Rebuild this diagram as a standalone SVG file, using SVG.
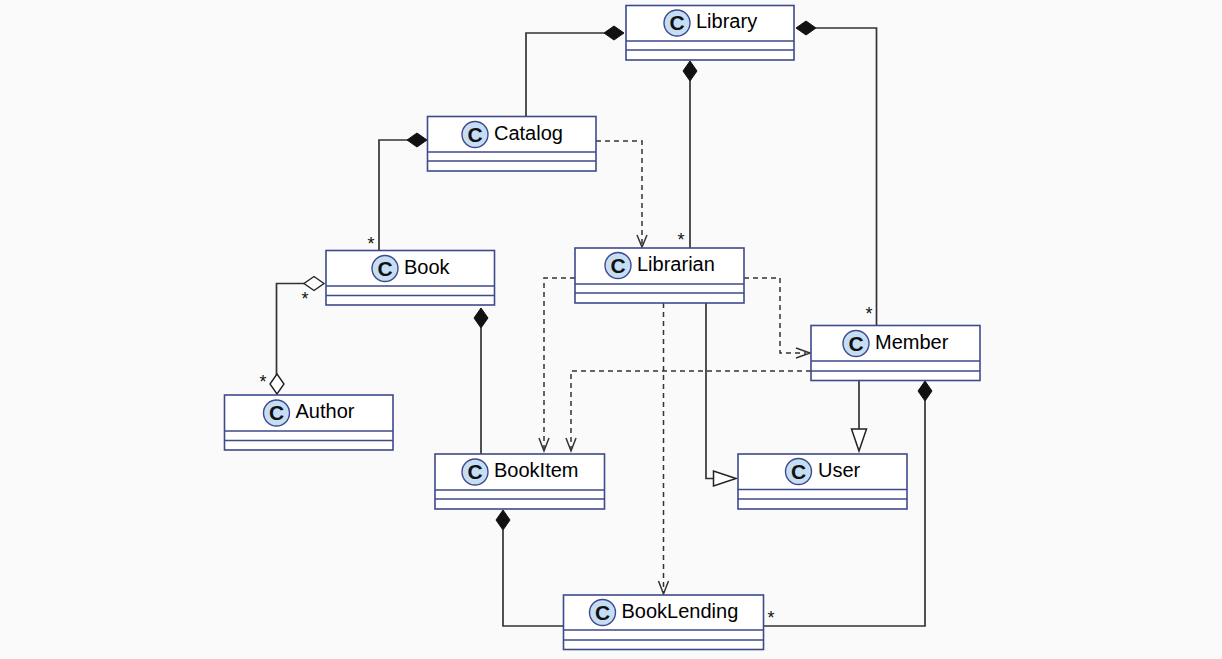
<svg xmlns="http://www.w3.org/2000/svg" width="1222" height="659" viewBox="0 0 1222 659">
<style>
.box{fill:#fff;stroke:#3f4a8c;stroke-width:1.6}
.div{stroke:#3f4a8c;stroke-width:1.6;fill:none}
.ic{fill:#c6def4;stroke:#3f4a8c;stroke-width:1.4}
.c{font:bold 21px "Liberation Sans",Arial,sans-serif;fill:#111;text-anchor:middle}
.t{font:20px "Liberation Sans",Arial,sans-serif;fill:#000}
.m{font:18px "Liberation Sans",Arial,sans-serif;fill:#111;text-anchor:middle}
.l{fill:none;stroke:#333;stroke-width:1.7}
.d{fill:none;stroke:#333;stroke-width:1.5;stroke-dasharray:5 4}
.fd{fill:#111;stroke:#111;stroke-width:1}
.od{fill:#fff;stroke:#222;stroke-width:1.4}
.tri{fill:#fff;stroke:#222;stroke-width:1.5}
.op{fill:none;stroke:#333;stroke-width:1.5}
</style>
<rect width="1222" height="659" fill="#fafafa"/>
<g id="connectors">
<path class="l" d="M526 116V33H604"/>
<polygon class="fd" points="624,33 614,26 604,33 614,40"/>
<path class="l" d="M427 140H379V250"/>
<polygon class="fd" points="427,140 417,133 407,140 417,147"/>
<path class="l" d="M690 80V248"/>
<polygon class="fd" points="690,61 683,71 690,81 697,71"/>
<path class="l" d="M816 28H876.500V325"/>
<polygon class="fd" points="796,28 806,21 816,28 806,35"/>
<path class="d" d="M596 141H642V244"/>
<path class="op" d="M637 235L642 247L647 235"/>
<path class="l" d="M304 283.500H276.500V375"/>
<polygon class="od" points="324,283.500 314,276.500 304,283.500 314,290.500"/>
<polygon class="od" points="277,374 270,384 277,394 284,384"/>
<path class="l" d="M481 328V454"/>
<polygon class="fd" points="481,308 474,318 481,328 488,318"/>
<path class="d" d="M575 278H544V450"/>
<path class="op" d="M539 438L544 451L549 438"/>
<path class="d" d="M744 278H780V353H806"/>
<path class="op" d="M796 348L810 353L796 358"/>
<path class="d" d="M811 371H571V450"/>
<path class="op" d="M566 438L571 451L576 438"/>
<path class="d" d="M663.500 303V592"/>
<path class="op" d="M658.500 581L663.500 594L668.500 581"/>
<path class="l" d="M706 303V478.500H714"/>
<polygon class="tri" points="736,478.500 713.500,471 713.500,486"/>
<path class="l" d="M859 381V429"/>
<polygon class="tri" points="859,451 851.500,429 866.500,429"/>
<path class="l" d="M925 401V626H764"/>
<polygon class="fd" points="925,381 918,391 925,401 932,391"/>
<path class="l" d="M503 530V626H563"/>
<polygon class="fd" points="503,510 496,520 503,530 510,520"/>
<text class="m" x="371" y="250">*</text>
<text class="m" x="681" y="246">*</text>
<text class="m" x="869" y="320">*</text>
<text class="m" x="305" y="305">*</text>
<text class="m" x="263" y="388">*</text>
<text class="m" x="771" y="624">*</text>
</g>
<g id="Library"><rect class="box" x="626" y="5.500" width="168" height="54.500"/><path class="div" d="M626 41H794M626 50H794"/><circle class="ic" cx="677" cy="23" r="13"/><text class="c" x="677" y="30">C</text><text class="t" x="696" y="28">Library</text></g>
<g id="Catalog"><rect class="box" x="427.500" y="116.500" width="168.500" height="54.500"/><path class="div" d="M427.500 152H596M427.500 161H596"/><circle class="ic" cx="475" cy="134.500" r="13"/><text class="c" x="475" y="141.500">C</text><text class="t" x="494" y="140">Catalog</text></g>
<g id="Book"><rect class="box" x="326" y="250.500" width="168.500" height="54.500"/><path class="div" d="M326 286H494.500M326 295.500H494.500"/><circle class="ic" cx="385" cy="268.500" r="13"/><text class="c" x="385" y="275.500">C</text><text class="t" x="404" y="274">Book</text></g>
<g id="Author"><rect class="box" x="224.500" y="395" width="168.500" height="55"/><path class="div" d="M224.500 431H393M224.500 440.500H393"/><circle class="ic" cx="276.500" cy="413" r="13"/><text class="c" x="276.500" y="420">C</text><text class="t" x="295.500" y="418">Author</text></g>
<g id="Librarian"><rect class="box" x="575" y="248" width="169" height="55"/><path class="div" d="M575 284H744M575 293H744"/><circle class="ic" cx="618" cy="265.500" r="13"/><text class="c" x="618" y="272.500">C</text><text class="t" x="637" y="271">Librarian</text></g>
<g id="Member"><rect class="box" x="811" y="325.500" width="169" height="55"/><path class="div" d="M811 361H980M811 371H980"/><circle class="ic" cx="856" cy="343.500" r="13"/><text class="c" x="856" y="350.500">C</text><text class="t" x="875" y="349">Member</text></g>
<g id="BookItem"><rect class="box" x="435" y="454" width="169.500" height="55"/><path class="div" d="M435 490H604.500M435 499H604.500"/><circle class="ic" cx="475" cy="472" r="13"/><text class="c" x="475" y="479">C</text><text class="t" x="494" y="477">BookItem</text></g>
<g id="User"><rect class="box" x="738" y="454" width="169" height="55"/><path class="div" d="M738 489.500H907M738 499H907"/><circle class="ic" cx="798.500" cy="471.500" r="13"/><text class="c" x="798.500" y="478.500">C</text><text class="t" x="818" y="477">User</text></g>
<g id="BookLending"><rect class="box" x="563.500" y="595" width="200" height="54.500"/><path class="div" d="M563.500 630H763.500M563.500 640H763.500"/><circle class="ic" cx="602.500" cy="612.500" r="13"/><text class="c" x="602.500" y="619.500">C</text><text class="t" x="621.500" y="618">BookLending</text></g>
</svg>
